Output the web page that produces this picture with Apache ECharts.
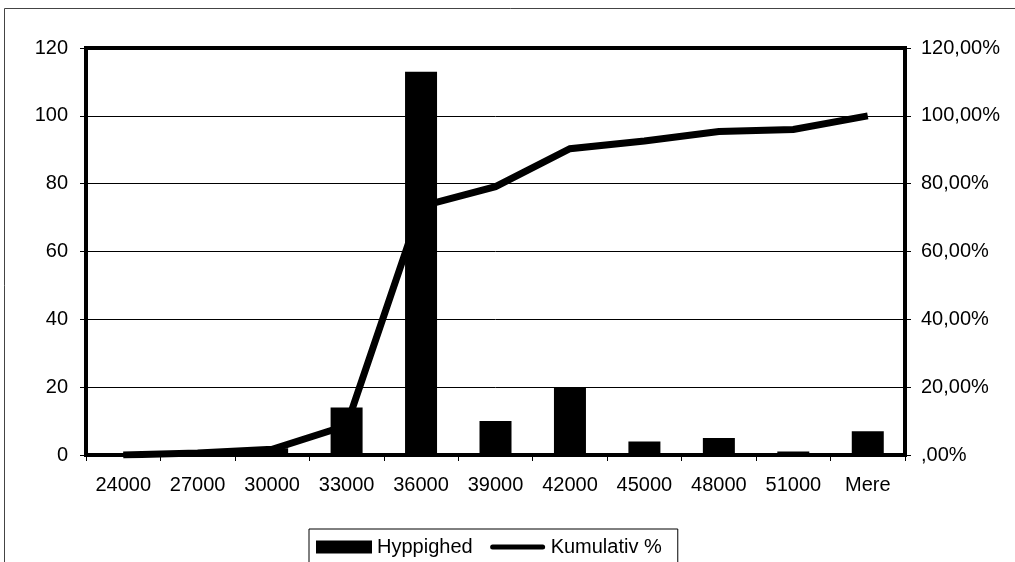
<!DOCTYPE html>
<html>
<head>
<meta charset="utf-8">
<script src="https://cdn.jsdelivr.net/npm/echarts@6/dist/echarts.min.js"></script>
<style>html,body{margin:0;padding:0;background:#fff;}#c{width:1015px;height:562px;}</style>
</head>
<body>
<div id="c"></div>
<script>
var categories = ['24000','27000','30000','33000','36000','39000','42000','45000','48000','51000','Mere'];
var frequency = [0, 1, 2, 14, 113, 10, 20, 4, 5, 1, 7];
var cumulative = [0, 0.006, 0.017, 0.087, 0.733, 0.791, 0.903, 0.926, 0.954, 0.960, 1.0];
var leftTicks = {min: 0, max: 120, interval: 20};
var rightTicks = {min: 0, max: 1.2, interval: 0.2};

var FONT = 'Liberation Sans, Arial, sans-serif';
var chart = echarts.init(document.getElementById('c'), null, {renderer: 'canvas'});
function pct(v) {
  var s = (v * 100).toFixed(2).replace('.', ',');
  if (s.indexOf('0,') === 0) s = s.substring(1);
  return s + '%';
}
var capsuleIcon = 'path://M0,0 L0,0 M56,0 L56,0 M0,13 L0,13 M56,13 L56,13 ' +
  'M3,4 L53,4 A2.5,2.5 0 0 1 53,9 L3,9 A2.5,2.5 0 0 1 3,4 Z';
chart.setOption({
  animation: false,
  backgroundColor: '#fff',
  graphic: [{
    type: 'rect', silent: true, z: -10,
    shape: {x: 4.5, y: 8.5, width: 1200, height: 800},
    style: {fill: 'none', stroke: '#444', lineWidth: 1}
  }],
  grid: {left: 86, right: 110, top: 48, bottom: 107, show: true, borderColor: '#000', borderWidth: 4, backgroundColor: 'transparent'},
  legend: {
    left: 309, top: 529,
    orient: 'horizontal',
    borderColor: '#000', borderWidth: 1, borderRadius: 0,
    padding: [8, 16, 8, 7],
    itemGap: 17, itemWidth: 56, itemHeight: 13,
    textStyle: {fontFamily: FONT, fontSize: 20, color: '#000'},
    data: [
      {name: 'Hyppighed', icon: 'rect'},
      {name: 'Kumulativ %', icon: capsuleIcon, itemStyle: {color: '#000', borderWidth: 0}}
    ]
  },
  xAxis: [{
    type: 'category', data: categories, position: 'bottom',
    boundaryGap: true,
    axisLine: {show: true, lineStyle: {color: '#000', width: 4}},
    axisTick: {show: true, length: 6, lineStyle: {color: '#000', width: 1}},
    axisLabel: {fontFamily: FONT, fontSize: 20, color: '#000', margin: 20, interval: 0},
    splitLine: {show: false}
  }],
  yAxis: [{
    type: 'value', position: 'left',
    min: leftTicks.min, max: leftTicks.max, interval: leftTicks.interval,
    axisLine: {show: true, lineStyle: {color: '#000', width: 4}},
    axisTick: {show: true, length: 6, lineStyle: {color: '#000', width: 1}},
    axisLabel: {fontFamily: FONT, fontSize: 20, color: '#000', margin: 18},
    splitLine: {show: true, lineStyle: {color: '#000', width: 1}}
  }, {
    type: 'value', position: 'right',
    min: rightTicks.min, max: rightTicks.max, interval: rightTicks.interval,
    axisLine: {show: true, lineStyle: {color: '#000', width: 4}},
    axisTick: {show: true, length: 6, lineStyle: {color: '#000', width: 1}},
    axisLabel: {fontFamily: FONT, fontSize: 20, color: '#000', margin: 16, formatter: pct},
    splitLine: {show: false}
  }],
  series: [{
    name: 'Hyppighed', type: 'bar', data: frequency,
    xAxisIndex: 0, yAxisIndex: 0,
    barWidth: 32,
    itemStyle: {color: '#000'}
  }, {
    name: 'Kumulativ %', type: 'line', data: cumulative,
    xAxisIndex: 0, yAxisIndex: 1,
    symbol: 'none', smooth: false,
    lineStyle: {color: '#000', width: 7, join: 'miter'},
    itemStyle: {color: '#000'},
    z: 3
  }]
});
</script>
</body>
</html>
